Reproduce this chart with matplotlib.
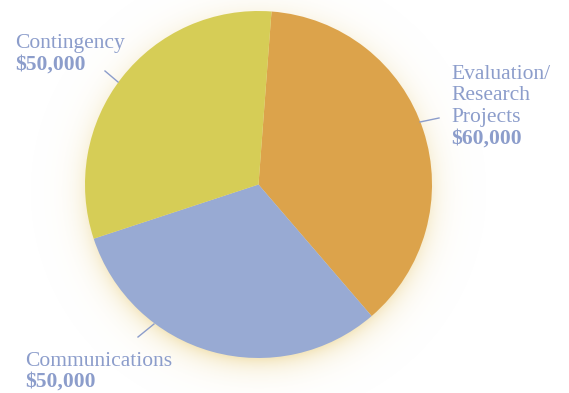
import matplotlib.pyplot as plt
import numpy as np

# budget breakdown
categories = ["Evaluation/\nResearch\nProjects", "Communications", "Contingency"]
amounts = [60000, 50000, 50000]
amount_labels = ["$60,000", "$50,000", "$50,000"]
colors = ["#DCA34B", "#98AAD3", "#D6CD56"]

W, H = 569, 393
fig = plt.figure(figsize=(W / 100, H / 100), dpi=100)
ax = fig.add_axes([0, 0, 1, 1])
ax.set_xlim(0, W)
ax.set_ylim(0, H)
ax.set_aspect("equal")
ax.axis("off")

cx, cy, r = 258.5, H - 184.5, 173.5

# soft yellow glow under the pie, dropped a little downwards
yy, xx = np.mgrid[0:H, 0:W]
d = np.hypot(xx + 0.5 - cx, (H - yy - 0.5) - (cy - 7)) - r
alpha = np.clip(np.exp(-np.clip(d + 6, 0, None) / 12.0), 0, 1) * 0.6
glow = np.zeros((H, W, 4))
glow[..., 0] = 236 / 255
glow[..., 1] = 214 / 255
glow[..., 2] = 150 / 255
glow[..., 3] = alpha
ax.imshow(glow, extent=(0, W, 0, H), origin="upper", zorder=0, interpolation="bilinear")

ax.pie(amounts, colors=colors, startangle=85.7, counterclock=False,
       center=(cx, cy), radius=r, frame=True,
       wedgeprops=dict(linewidth=0, antialiased=True))
ax.set_xlim(0, W)
ax.set_ylim(0, H)
ax.axis("off")

txt_color = "#8C9DCB"
font = "Liberation Serif"
fsize = 15.5

# label anchor: x and baseline of first line (pixels from top)
label_pos = [(451, 79), (25, 365.5), (15, 48)]
line_h = 21.5
for name, amt, (tx, ty) in zip(categories, amount_labels, label_pos):
    lines = name.split("\n")
    for i, ln in enumerate(lines):
        ax.text(tx, H - (ty + i * line_h), ln, fontsize=fsize, color=txt_color,
                family=font, va="baseline", ha="left")
    ax.text(tx, H - (ty + len(lines) * line_h), amt, fontsize=fsize, color=txt_color,
            family=font, fontweight="bold", va="baseline", ha="left")

# leader lines
leaders = [((420, 122), (439, 118)), ((154, 324), (138, 337)), ((118, 82), (105, 71))]
for (x0, y0), (x1, y1) in leaders:
    ax.plot([x0, x1], [H - y0, H - y1], color="#8C9DCB", linewidth=1.0, zorder=3)

fig.savefig("out.png", dpi=100, facecolor="white")
